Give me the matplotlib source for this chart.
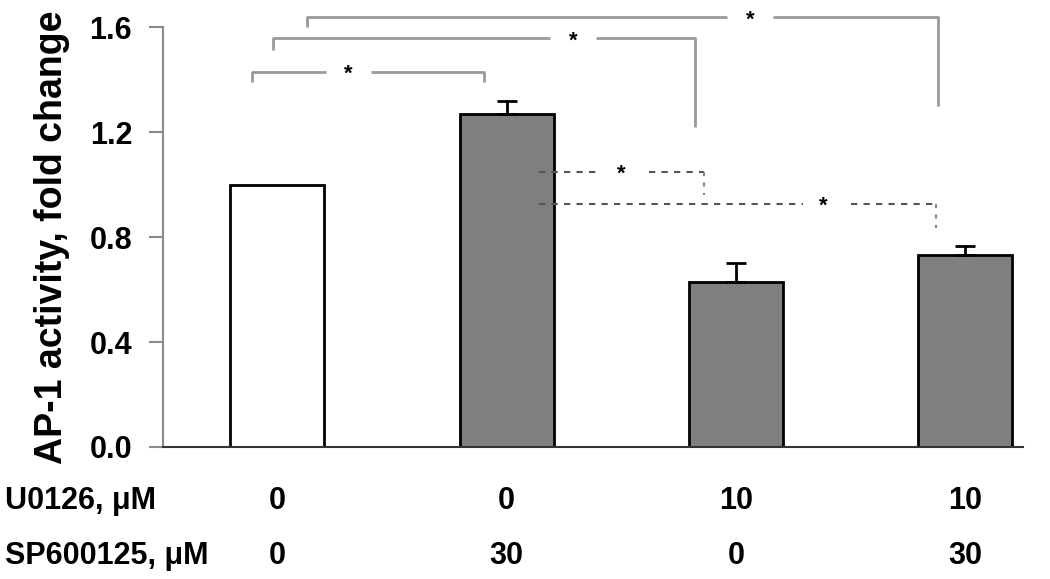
import matplotlib
matplotlib.use("Agg")
import matplotlib.pyplot as plt
import numpy as np

plt.rcParams['font.family'] = ['Liberation Sans', 'DejaVu Sans']

# Data
values = [1.00, 1.27, 0.63, 0.73]
errors = [0.0, 0.05, 0.07, 0.035]
bar_colors = ['white', '#7f7f7f', '#7f7f7f', '#7f7f7f']
u0126 = ['0', '0', '10', '10']
sp600125 = ['0', '30', '0', '30']
yticks = [0.0, 0.4, 0.8, 1.2, 1.6]

# solid brackets: (x_left, x_right, y_line, y_left_end, y_right_end, x_star)
solid_brackets = [
    (-0.11, 0.90, 1.43, 1.39, 1.39, 0.28),
    (-0.02, 1.82, 1.558, 1.515, 1.22, 1.26),
    (0.13, 2.88, 1.638, 1.60, 1.30, 2.03),
]
# dashed brackets
dashed_brackets = [
    (1.14, 1.86, 1.048, 0.96, 1.47),
    (1.14, 2.87, 0.926, 0.834, 2.35),
]

fig = plt.figure(figsize=(10.5, 5.79), dpi=100)
ax = fig.add_axes([0.155, 0.228, 0.819, 0.725])

x = np.arange(len(values))
ax.bar(x, values, width=0.41, color=bar_colors, edgecolor='black', linewidth=2, zorder=2)
for xi, v, e in zip(x, values, errors):
    if e > 0:
        ax.errorbar(xi, v, yerr=[[0], [e]], fmt='none', ecolor='black',
                    elinewidth=2, capsize=7, capthick=2, zorder=3)

ax.set_xlim(-0.5, 3.25)
ax.set_ylim(0, 1.6)
ax.set_yticks(yticks)
ax.set_yticklabels([f'{t:.1f}' for t in yticks], fontsize=22, fontweight='bold')
ax.set_xticks([])
ax.spines['top'].set_visible(False)
ax.spines['right'].set_visible(False)
ax.spines['left'].set_color('#8a8a8a')
ax.spines['left'].set_linewidth(1.5)
ax.spines['bottom'].set_color('#333333')
ax.spines['bottom'].set_linewidth(1.5)
ax.tick_params(axis='y', length=10, width=1.5, color='#8a8a8a', pad=12)
ax.set_ylabel('AP-1 activity, fold change', fontsize=27, fontweight='bold', labelpad=14)

gray = '#999999'
for xl, xr, yl, yle, yre, xs in solid_brackets:
    gap = 0.07
    ax.plot([xl, xl, xs - gap], [yle, yl, yl], color=gray, lw=2, clip_on=False, solid_capstyle='butt')
    ax.plot([xs + gap + 0.06, xr, xr], [yl, yl, yre], color=gray, lw=2, clip_on=False, solid_capstyle='butt')
    ax.text(xs + 0.03, yl - 0.01, '*', ha='center', va='center', fontsize=16, fontweight='bold')

for xl, xr, yl, yre, xs in dashed_brackets:
    gap = 0.06
    ax.plot([xl, xs - gap], [yl, yl], color='#555555', lw=1.5, ls=(0, (3, 3)), clip_on=False)
    ax.plot([xs + gap + 0.09, xr], [yl, yl], color='#555555', lw=1.5, ls=(0, (3, 3)), clip_on=False)
    ax.plot([xr, xr], [yl, yre], color='#888888', lw=1.5, ls=(0, (2, 3)), clip_on=False)
    ax.text(xs + 0.03, yl - 0.01, '*', ha='center', va='center', fontsize=16, fontweight='bold')

# Bottom condition labels
trans = matplotlib.transforms.blended_transform_factory(ax.transData, fig.transFigure)
fig.text(0.005, 0.135, 'U0126, \u03bcM', fontsize=22, fontweight='bold', va='center', ha='left')
fig.text(0.005, 0.04, 'SP600125, \u03bcM', fontsize=22, fontweight='bold', va='center', ha='left')
for xi, a, b in zip(x, u0126, sp600125):
    ax.text(xi, 0.135, a, transform=trans, fontsize=22, fontweight='bold', ha='center', va='center')
    ax.text(xi, 0.04, b, transform=trans, fontsize=22, fontweight='bold', ha='center', va='center')

fig.savefig('out.png', dpi=100)
